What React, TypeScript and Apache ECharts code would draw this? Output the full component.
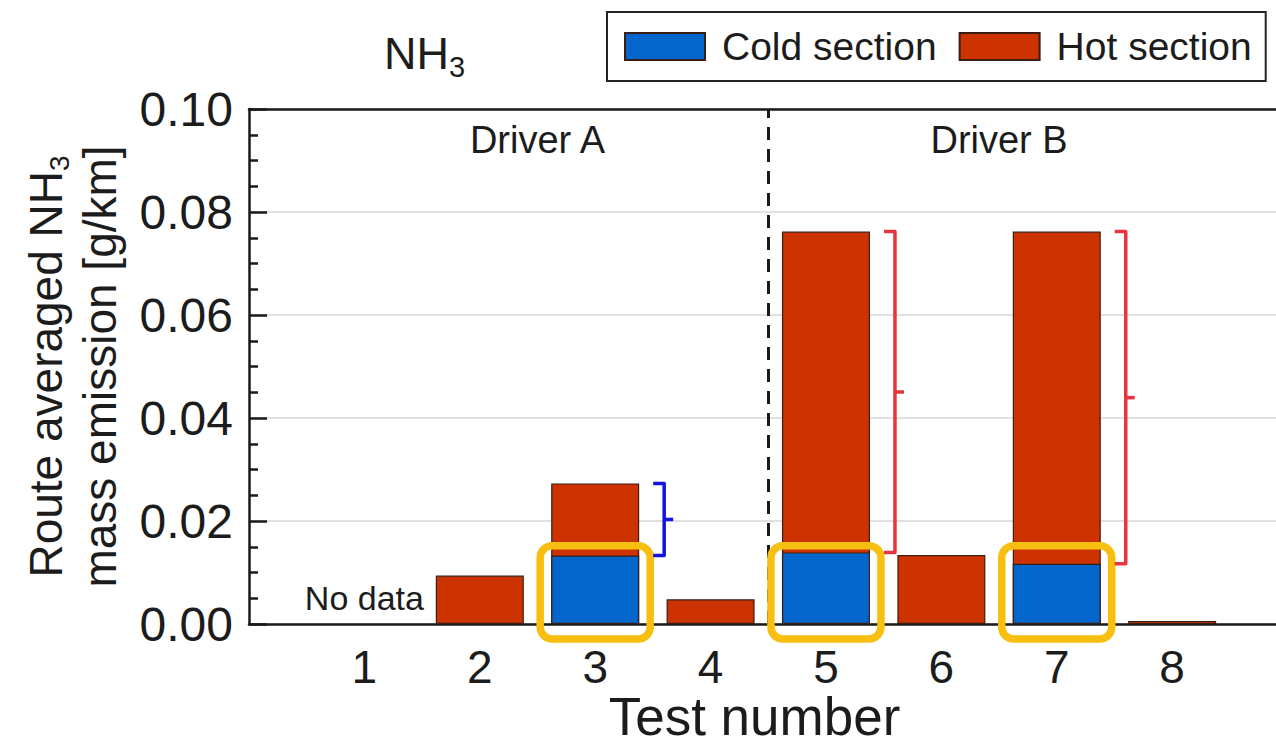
import React, { useEffect, useRef } from "react";
import * as echarts from "echarts";

// Route averaged NH3 mass emission per test [g/km]
const tests = [1, 2, 3, 4, 5, 6, 7, 8];
const coldSection: (number | null)[] = [null, null, 0.0133, null, 0.0139, null, 0.0117, null];
const hotSection: (number | null)[] = [null, 0.0094, 0.014, 0.0048, 0.0623, 0.0134, 0.0645, 0.0006];

// Tests grouped by driver
const driverNames = ["Driver A", "Driver B"];
const driverTests = [
  [1, 2, 3, 4],
  [5, 6, 7, 8],
];

// Tests whose cold section is highlighted, with the colour of the bracket on the hot section
const highlightedTests = [3, 5, 7];
const bracketColors = ["#1414e0", "#e8343e", "#e8343e"];

const yTickValues = [0, 0.02, 0.04, 0.06, 0.08, 0.1];

const FONT = '"Liberation Sans", Arial, Helvetica, sans-serif';
const TEXT = "#1c1c1c";
const COLD = "#0366cc";
const HOT = "#cc3300";
const EDGE = "#3a1e14";
const GOLD = "#f8bf10";
const BAR_WIDTH = 88;
const HIGHLIGHT_TOP = 0.0152;
const DRIVER_LABEL_Y = 0.094;
const NO_DATA_LABEL_Y = 0.0051;

export default function App() {
  const ref = useRef<HTMLDivElement>(null);

  useEffect(() => {
    document.body.style.margin = "0";
    if (!ref.current) return;
    const chart = echarts.init(ref.current, undefined, { renderer: "svg" });

    // Top of each bar: the hot section sits on the cold section
    const totals = tests.map((_, i) =>
      coldSection[i] == null && hotSection[i] == null
        ? null
        : (coldSection[i] ?? 0) + (hotSection[i] ?? 0)
    );
    const divider =
      (driverTests[0][driverTests[0].length - 1] + driverTests[1][0]) / 2;
    const driverCenters = driverTests.map(
      (g) => g.reduce((a, b) => a + b, 0) / g.length
    );
    const noDataTests = tests.filter(
      (_, i) => coldSection[i] == null && hotSection[i] == null
    );

    const highlightData = highlightedTests.map((t) => {
      const i = tests.indexOf(t);
      return [t, coldSection[i] ?? 0, totals[i] ?? 0];
    });

    const labelData = [
      ...driverNames.map((name, k) => ({
        value: [driverCenters[k], DRIVER_LABEL_Y],
        label: { formatter: name, fontSize: 38, color: TEXT },
      })),
      ...noDataTests.map((t) => ({
        value: [t, NO_DATA_LABEL_Y],
        label: { formatter: "No data", fontSize: 34, color: TEXT },
      })),
    ];

    const option: any = {
      animation: false,
      textStyle: { fontFamily: FONT, color: TEXT },
      title: {
        text: "{n|NH}{s|3}",
        left: 379,
        top: 20,
        textStyle: {
          fontWeight: "normal",
          rich: {
            n: { fontSize: 45, lineHeight: 56, color: TEXT, fontFamily: FONT, fontWeight: "normal" },
            s: {
              fontSize: 29,
              lineHeight: 30,
              verticalAlign: "bottom",
              color: TEXT,
              fontFamily: FONT,
              fontWeight: "normal",
            },
          },
        },
      },
      legend: {
        data: ["Cold section", "Hot section"],
        left: 607,
        top: 12,
        orient: "horizontal",
        icon: "rect",
        itemWidth: 80,
        itemHeight: 27,
        itemGap: 22,
        padding: [15, 14, 15, 17],
        borderColor: "#222",
        borderWidth: 2,
        borderRadius: 0,
        textStyle: {
          fontSize: 39,
          color: TEXT,
          fontFamily: FONT,
          padding: [0, 0, 0, 12],
        },
      },
      grid: {
        left: 249,
        right: 0,
        top: 109,
        bottom: 122,
        containLabel: false,
        outerBoundsMode: "none",
      },
      xAxis: [
        {
          type: "value",
          min: 0,
          max: 8.9,
          interval: 1,
          name: "Test number",
          nameLocation: "middle",
          nameGap: 67,
          nameMoveOverlap: false,
          nameTextStyle: {
            fontSize: 53,
            lineHeight: 50,
            color: TEXT,
            fontFamily: FONT,
            padding: [0, 16, 0, 0],
          },
          axisLine: { show: true, onZero: false, lineStyle: { color: "#1a1a1a", width: 2.5 } },
          axisTick: { show: false },
          splitLine: { show: false },
          axisLabel: {
            fontSize: 46,
            lineHeight: 44,
            color: TEXT,
            fontFamily: FONT,
            margin: 21,
            showMaxLabel: false,
            formatter: (v: number) => (tests.includes(v) ? String(v) : ""),
          },
        },
        {
          type: "value",
          position: "top",
          min: 0,
          max: 8.9,
          axisLine: { show: true, onZero: false, lineStyle: { color: "#1a1a1a", width: 2.5 } },
          axisTick: { show: false },
          axisLabel: { show: false },
          splitLine: { show: false },
        },
      ],
      yAxis: {
        type: "value",
        min: yTickValues[0],
        max: yTickValues[yTickValues.length - 1],
        interval: yTickValues[1] - yTickValues[0],
        name: "Route averaged NH{s|3}\nmass emission [g/km]",
        nameLocation: "middle",
        nameGap: 122,
        nameMoveOverlap: false,
        nameTextStyle: {
          fontSize: 46,
          lineHeight: 54,
          color: TEXT,
          fontFamily: FONT,
          rich: {
            s: { fontSize: 28, lineHeight: 30, verticalAlign: "bottom", fontFamily: FONT, color: TEXT },
          },
        },
        axisLine: { show: true, lineStyle: { color: "#1a1a1a", width: 2.5 } },
        axisTick: { show: true, inside: true, length: 18, lineStyle: { color: "#1a1a1a", width: 2.5 } },
        minorTick: { show: true, splitNumber: 4, length: 9, lineStyle: { color: "#1a1a1a", width: 2.5 } },
        splitLine: { show: true, lineStyle: { color: "#d6d6d6", width: 1.5 } },
        axisLabel: {
          fontSize: 48,
          color: TEXT,
          fontFamily: FONT,
          margin: 16,
          formatter: (v: number) => v.toFixed(2),
        },
      },
      series: [
        {
          // Full bar up to the hot-section top; the cold section is drawn over its lower part
          name: "Hot section",
          type: "bar",
          barWidth: BAR_WIDTH,
          barGap: "-100%",
          data: tests.map((t, i) => [t, totals[i]]),
          itemStyle: { color: HOT, borderColor: EDGE, borderWidth: 1.2 },
          markLine: {
            silent: true,
            symbol: "none",
            label: { show: false },
            lineStyle: { type: [13, 9], color: "#1a1a1a", width: 3 },
            data: [{ xAxis: divider }],
          },
        },
        {
          name: "Cold section",
          type: "bar",
          barWidth: BAR_WIDTH,
          barGap: "-100%",
          data: tests.map((t, i) => [t, coldSection[i]]),
          itemStyle: { color: COLD, borderColor: EDGE, borderWidth: 1.2 },
        },
        {
          name: "highlight",
          type: "custom",
          z: 5,
          silent: true,
          clip: false,
          data: highlightData,
          renderItem: (params: any, api: any) => {
            const x = api.value(0);
            const cold = api.value(1);
            const total = api.value(2);
            const base = api.coord([x, 0]);
            const coldTop = api.coord([x, cold]);
            const top = api.coord([x, total]);
            const boxTop = api.coord([x, HIGHLIGHT_TOP]);
            const half = BAR_WIDTH / 2;
            const padX = 11;
            const color = bracketColors[params.dataIndex];
            const bx = base[0] + half + 14;
            const vx = bx + 11;
            const mid = (top[1] + coldTop[1]) / 2;
            return {
              type: "group",
              children: [
                {
                  type: "rect",
                  shape: {
                    x: base[0] - half - padX,
                    y: boxTop[1],
                    width: BAR_WIDTH + 2 * padX,
                    height: base[1] + 15 - boxTop[1],
                    r: 12,
                  },
                  style: { fill: "none", stroke: GOLD, lineWidth: 7.5 },
                },
                {
                  type: "polyline",
                  shape: {
                    points: [
                      [bx, top[1]],
                      [vx, top[1]],
                      [vx, coldTop[1]],
                      [bx, coldTop[1]],
                    ],
                  },
                  style: { fill: "none", stroke: color, lineWidth: 3.5, lineJoin: "round" },
                },
                {
                  type: "line",
                  shape: { x1: vx, y1: mid, x2: vx + 9, y2: mid },
                  style: { stroke: color, lineWidth: 3.5 },
                },
              ],
            };
          },
        },
        {
          name: "annotations",
          type: "scatter",
          silent: true,
          symbolSize: 1,
          itemStyle: { color: "rgba(0,0,0,0)", opacity: 1 },
          label: {
            show: true,
            position: "inside",
            color: TEXT,
            fontFamily: FONT,
          },
          data: labelData,
        },
      ],
    };

    chart.setOption(option);
    return () => chart.dispose();
  }, []);

  return <div ref={ref} style={{ width: 1276, height: 746 }} />;
}
